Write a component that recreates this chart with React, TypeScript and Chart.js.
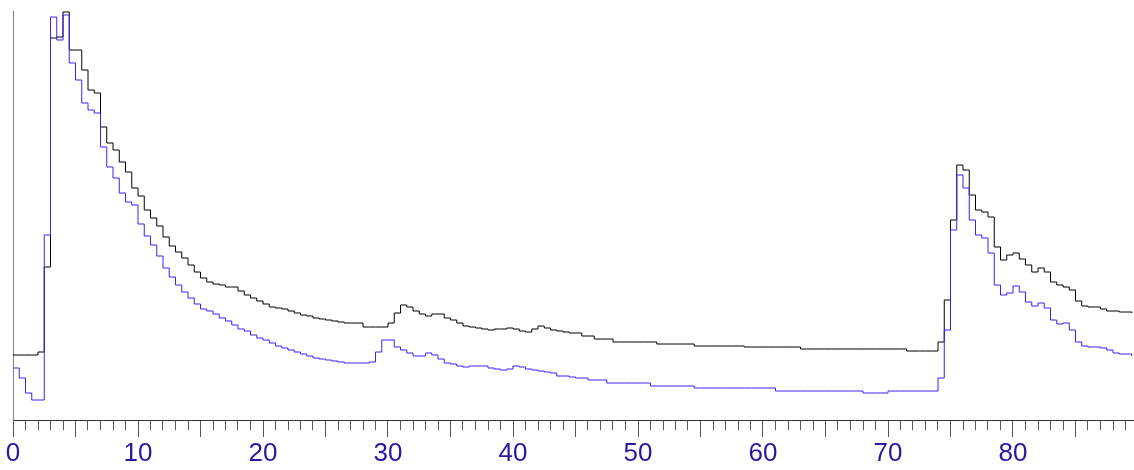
import React, { useEffect, useRef } from 'react';
import { Chart, registerables } from 'chart.js';

Chart.register(...registerables);

// Sample spacing along the x axis (units)
const X_STEP = 0.5;

// Black trace, one value every 0.5 units from 0 to 89.5
const blackSeries = [
  65, 65, 65, 65, 68, 153, 382, 383, 408, 370,
  370, 350, 330, 327, 293, 277, 270, 258, 248, 232,
  224, 210, 202, 194, 183, 174, 168, 162, 155, 148,
  142, 138, 136, 135, 133, 133, 129, 125, 122, 119,
  116, 113, 112, 111, 109, 107, 105, 104, 102, 101,
  100, 99, 98, 97, 97, 97, 93, 93, 93, 93,
  97, 107, 115, 113, 109, 106, 104, 106, 106, 102,
  100, 97, 94, 93, 92, 91, 90, 91, 91, 92,
  91, 89, 88, 91, 94, 92, 90, 89, 88, 87,
  87, 84, 84, 81, 81, 81, 78, 78, 78, 78,
  78, 78, 78, 76, 76, 76, 76, 76, 76, 74,
  74, 74, 74, 74, 74, 74, 74, 73, 73, 73,
  73, 73, 73, 73, 73, 73, 71, 71, 71, 71,
  71, 71, 71, 71, 71, 71, 71, 71, 71, 71,
  71, 71, 71, 69, 69, 69, 69, 69, 78, 120,
  200, 255, 250, 225, 210, 208, 203, 173, 160, 165,
  167, 161, 155, 148, 152, 148, 138, 135, 133, 130,
  119, 114, 113, 113, 111, 109, 109, 108, 108, 107,
];

// Blue trace, same sampling
const blueSeries = [
  52, 42, 27, 20, 20, 185, 403, 380, 405, 357,
  340, 317, 310, 307, 273, 253, 242, 227, 218, 215,
  196, 184, 175, 164, 152, 143, 135, 128, 122, 116,
  111, 109, 106, 102, 99, 95, 91, 89, 85, 82,
  80, 77, 74, 72, 70, 68, 66, 64, 62, 61,
  60, 59, 58, 57, 57, 57, 57, 58, 68, 80,
  80, 73, 70, 67, 64, 64, 67, 65, 61, 57,
  56, 54, 53, 54, 54, 54, 52, 51, 50, 51,
  54, 53, 51, 50, 49, 48, 47, 44, 44, 43,
  42, 42, 40, 40, 40, 37, 37, 37, 37, 37,
  37, 37, 34, 34, 34, 34, 34, 34, 34, 32,
  32, 32, 32, 32, 32, 32, 32, 32, 32, 32,
  32, 32, 29, 29, 29, 29, 29, 29, 29, 29,
  29, 29, 29, 29, 29, 29, 27, 27, 27, 27,
  29, 29, 29, 29, 29, 29, 29, 29, 42, 90,
  190, 245, 232, 200, 185, 182, 167, 135, 125, 127,
  134, 128, 118, 114, 117, 112, 100, 96, 97, 90,
  78, 74, 73, 73, 72, 70, 67, 66, 66, 64,
];

const majorTicks = [0, 5, 10, 15, 20, 25, 30, 35, 40, 45, 50, 55, 60, 65, 70, 75, 80, 85];
const labelledTicks = [0, 10, 20, 30, 40, 50, 60, 70, 80];
const X_MIN = 0;
const X_MAX = 89.68;
const Y_MIN = 0;
const Y_MAX = 409;

const BLACK = '#000000';
const BLUE = '#3f1fff';
const LABEL_COLOR = '#2b16a6';
const TICK_COLOR = '#555555';

export default function App() {
  const ref = useRef<HTMLCanvasElement>(null);

  useEffect(() => {
    const canvas = ref.current;
    if (!canvas) return;

    const minorTickPlugin = {
      id: 'minorTicks',
      afterDraw(chart: any) {
        const xs = chart.scales.x;
        const c = chart.ctx;
        c.save();
        c.strokeStyle = TICK_COLOR;
        c.lineWidth = 1;
        c.beginPath();
        for (let v = Math.ceil(X_MIN); v <= X_MAX; v += 1) {
          if (majorTicks.includes(v)) continue;
          const px = Math.round(xs.getPixelForValue(v) - 0.5) + 0.5;
          c.moveTo(px, xs.top);
          c.lineTo(px, xs.top + 10);
        }
        c.stroke();
        c.restore();
      },
    };

    const toPoints = (arr: number[]) => arr.map((v, i) => ({ x: i * X_STEP, y: v }));

    const chart = new Chart(canvas, {
      type: 'line',
      data: {
        datasets: [
          {
            label: 'blue',
            data: toPoints(blueSeries),
            borderColor: BLUE,
            borderWidth: 1,
            pointRadius: 0,
            stepped: true,
            fill: false,
          },
          {
            label: 'black',
            data: toPoints(blackSeries),
            borderColor: BLACK,
            borderWidth: 1,
            pointRadius: 0,
            stepped: true,
            fill: false,
          },
        ],
      },
      options: {
        animation: false,
        responsive: true,
        maintainAspectRatio: false,
        layout: { padding: { left: 13, top: 11, right: 0, bottom: 0 } },
        plugins: { legend: { display: false }, tooltip: { enabled: false } },
        scales: {
          x: {
            type: 'linear',
            min: X_MIN,
            max: X_MAX,
            afterBuildTicks: (s: any) => {
              s.ticks = majorTicks.map((v) => ({ value: v }));
            },
            afterFit: (s: any) => {
              s.height = 50;
            },
            grid: {
              display: true,
              drawOnChartArea: false,
              drawTicks: true,
              tickLength: 17,
              tickColor: TICK_COLOR,
              color: TICK_COLOR,
            },
            border: { display: true, color: '#333333', width: 1 },
            ticks: {
              autoSkip: false,
              maxRotation: 0,
              minRotation: 0,
              padding: 1,
              color: LABEL_COLOR,
              font: { family: "'Liberation Sans', Arial, sans-serif", size: 26 },
              callback: (v: any) => (labelledTicks.includes(Number(v)) ? String(v) : ''),
            },
          },
          y: {
            min: Y_MIN,
            max: Y_MAX,
            grid: { display: false, drawTicks: false },
            ticks: { display: false },
            border: { display: true, color: '#808080', width: 1 },
            afterFit: (s: any) => {
              s.width = 0;
            },
          },
        },
      },
      plugins: [minorTickPlugin],
    });

    return () => chart.destroy();
  }, []);

  return (
    <div style={{ position: 'fixed', left: 0, top: 0, width: 1134, height: 470, background: '#fff' }}>
      <canvas ref={ref} />
    </div>
  );
}
